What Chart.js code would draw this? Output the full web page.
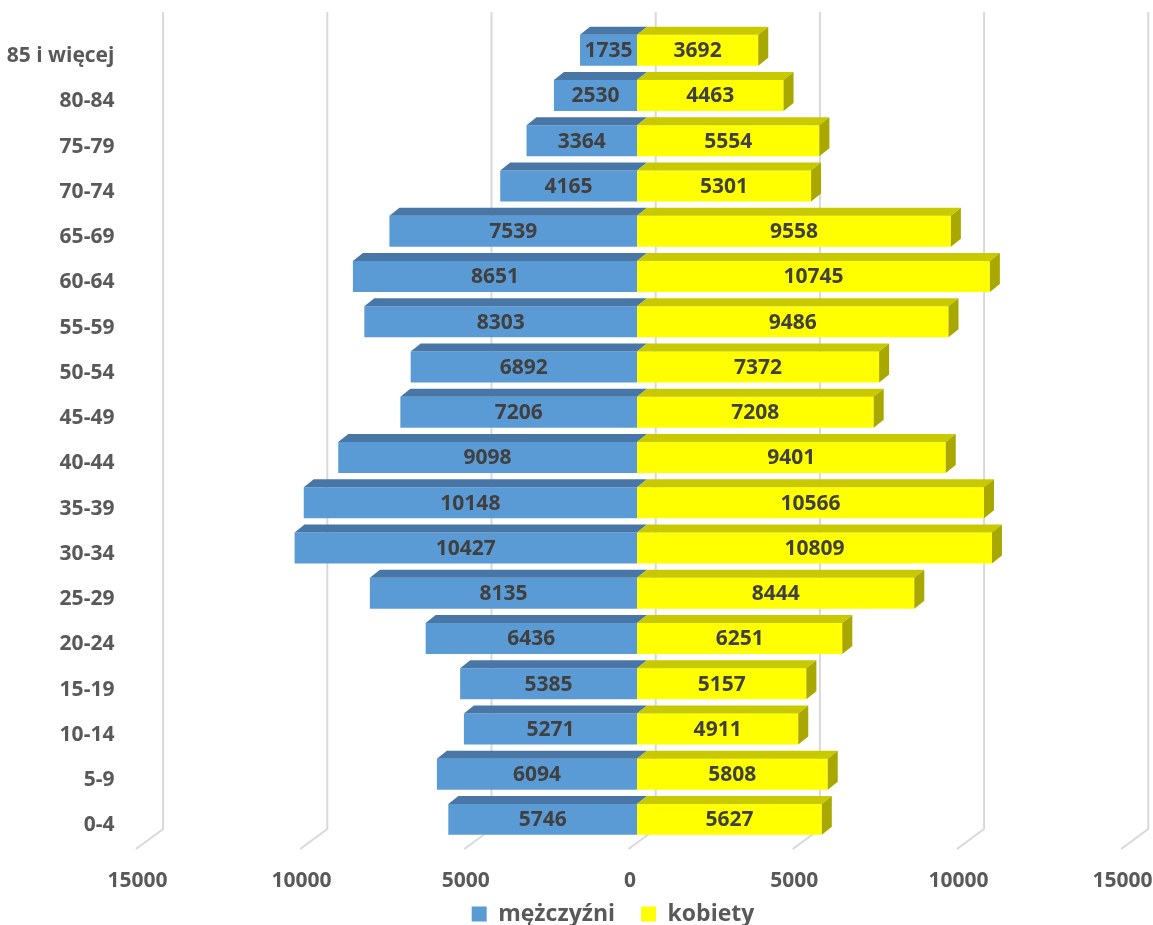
<!DOCTYPE html>
<html><head><meta charset="utf-8">
<script src="https://cdn.jsdelivr.net/npm/chart.js@4.4.1/dist/chart.umd.min.js"></script>
<style>html,body{margin:0;padding:0;background:#fff}</style>
</head><body>
<canvas id="c" width="1153" height="925"></canvas>
<script>
const categories = ['85 i więcej','80-84','75-79','70-74','65-69','60-64','55-59','50-54','45-49','40-44','35-39','30-34','25-29','20-24','15-19','10-14','5-9','0-4'];
const men   = [1735,2530,3364,4165,7539,8651,8303,6892,7206,9098,10148,10427,8135,6436,5385,5271,6094,5746];
const women = [3692,4463,5554,5301,9558,10745,9486,7372,7208,9401,10566,10809,8444,6251,5157,4911,5808,5627];
const xTicks = [-15000,-10000,-5000,0,5000,10000,15000];
const seriesNames = ['mężczyźni','kobiety'];

const FONT = "'Open Sans', 'DejaVu Sans', sans-serif";
const BLUE = '#5B9BD5', BLUE_TOP = '#4876A6';
const YEL = '#FFFF00', YEL_TOP = '#C9C900', YEL_SIDE = '#A8A800';
const DEPTH_X = 10, DEPTH_Y = -8;

const depth3d = {
  id: 'depth3d',
  afterLayout(chart) {
    const lg = chart.legend;
    if (!lg) return;
    const shiftX = 613 - (lg.left + lg.right) / 2;
    lg.left += shiftX; lg.right += shiftX;
    const pad = chart.options.plugins.legend.labels.padding;
    const fs = chart.options.plugins.legend.labels.font.size;
    const desiredTop = 914 - pad - fs / 2;
    const shiftY = desiredTop - lg.top;
    lg.top += shiftY; lg.bottom += shiftY;
  },
  beforeDatasetsDraw(chart) {
    const {ctx, chartArea, scales: {x}} = chart;
    ctx.save();
    ctx.strokeStyle = '#D9D9D9';
    ctx.lineWidth = 2;
    const yTop = chartArea.top - 15.6, yBackBottom = chartArea.bottom - 13, yFront = chartArea.bottom + 7;
    xTicks.forEach(v => {
      const p = x.getPixelForValue(v);
      ctx.beginPath();
      ctx.moveTo(p + 18.7, yTop);
      ctx.lineTo(p + 18.7, yBackBottom);
      ctx.lineTo(p - 8.5, yFront);
      ctx.stroke();
    });
    ctx.restore();
  },
  afterDatasetsDraw(chart) {
    const {ctx} = chart;
    ctx.save();
    const faces = [];
    chart.data.datasets.forEach((ds, di) => {
      const meta = chart.getDatasetMeta(di);
      meta.data.forEach((el, i) => {
        const p = el.getProps(['x', 'y', 'base', 'height'], true);
        const left = Math.min(p.x, p.base), right = Math.max(p.x, p.base);
        const top = p.y - p.height / 2, bottom = p.y + p.height / 2;
        ctx.fillStyle = di === 0 ? BLUE_TOP : YEL_TOP;
        ctx.beginPath();
        ctx.moveTo(left, top);
        ctx.lineTo(right, top);
        ctx.lineTo(right + DEPTH_X, top + DEPTH_Y);
        ctx.lineTo(left + DEPTH_X, top + DEPTH_Y);
        ctx.closePath();
        ctx.fill();
        if (di === 1) {
          ctx.fillStyle = YEL_SIDE;
          ctx.beginPath();
          ctx.moveTo(right, top);
          ctx.lineTo(right + DEPTH_X, top + DEPTH_Y);
          ctx.lineTo(right + DEPTH_X, bottom + DEPTH_Y);
          ctx.lineTo(right, bottom);
          ctx.closePath();
          ctx.fill();
        }
        faces.push({cx: (left + right) / 2, cy: p.y, v: Math.abs(ds.data[i])});
      });
    });
    ctx.fillStyle = '#404040';
    ctx.font = "bold 21px " + FONT;
    ctx.textAlign = 'center';
    ctx.textBaseline = 'middle';
    faces.forEach(f => ctx.fillText(String(f.v), f.cx, f.cy + 1));
    ctx.restore();
  }
};

new Chart(document.getElementById('c'), {
  type: 'bar',
  data: {
    labels: categories,
    datasets: [
      {label: seriesNames[0], data: men.map(v => -v), backgroundColor: BLUE, borderWidth: 0},
      {label: seriesNames[1], data: women, backgroundColor: YEL, borderWidth: 0}
    ]
  },
  options: {
    indexAxis: 'y',
    responsive: false,
    animation: false,
    devicePixelRatio: 1,
    layout: {padding: {left: 0, right: 23.4, top: 27.6, bottom: -36}},
    datasets: {bar: {categoryPercentage: 1, barPercentage: 0.685}},
    scales: {
      x: {
        stacked: true,
        min: -15000, max: 15000,
        afterBuildTicks(s) { s.ticks = xTicks.map(v => ({value: v})); },
        afterFit(s) { s.height = 60; s.paddingLeft = 0; s.paddingRight = 0; },
        grid: {display: false, drawTicks: false},
        border: {display: false},
        ticks: {
          callback: v => String(Math.abs(v)),
          font: {family: FONT, size: 21, weight: 'bold'},
          color: '#595959',
          padding: 26,
          labelOffset: -7,
          maxRotation: 0, autoSkip: false
        }
      },
      y: {
        stacked: true,
        afterFit(s) { s.width = 144.4; s.paddingTop = 0; s.paddingBottom = 0; },
        grid: {display: false, drawTicks: false},
        border: {display: false},
        ticks: {
          font: {family: FONT, size: 21, weight: 'bold'},
          color: '#595959',
          padding: 30,
          labelOffset: 6,
          autoSkip: false
        }
      }
    },
    plugins: {
      legend: {
        position: 'bottom',
        labels: {
          font: {family: FONT, size: 23, weight: 'bold'},
          color: '#595959',
          boxWidth: 15, boxHeight: 15,
          padding: 26
        }
      },
      tooltip: {enabled: false}
    }
  },
  plugins: [depth3d]
});
</script>
</body></html>
